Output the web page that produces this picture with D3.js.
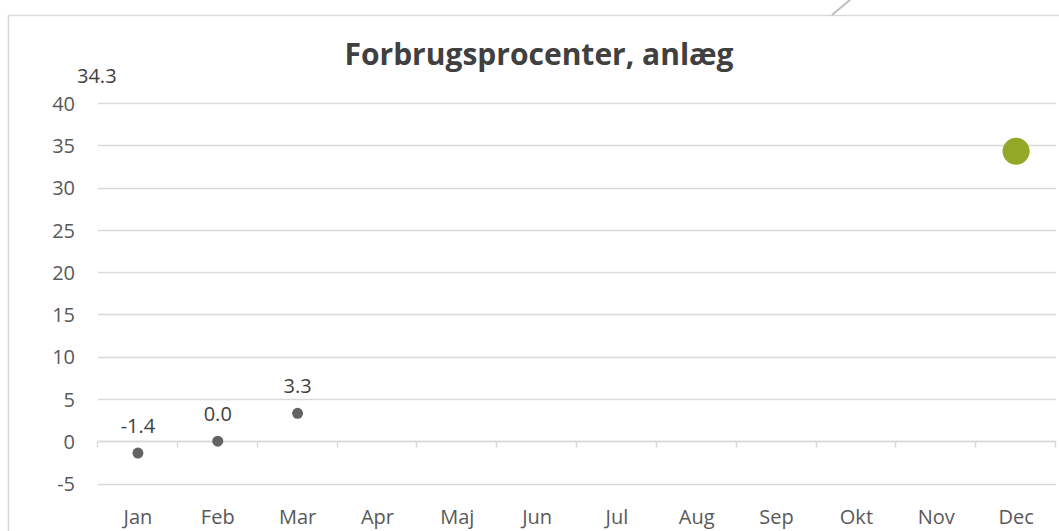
<!DOCTYPE html>
<html>
<head>
<meta charset="utf-8">
<script src="https://cdn.jsdelivr.net/npm/d3@7"></script>
<style>
  body { margin: 0; background: #fff; }
  svg { font-family: "Open Sans", "Noto Sans", sans-serif; }
</style>
</head>
<body>
<svg id="chart" width="1059" height="531"></svg>
<script>
const months = ['Jan', 'Feb', 'Mar', 'Apr', 'Maj', 'Jun', 'Jul', 'Aug', 'Sep', 'Okt', 'Nov', 'Dec'];
const actualValues = [-1.4, 0.0, 3.3, null, null, null, null, null, null, null, null, null];
const yearEndValues = [null, null, null, null, null, null, null, null, null, null, null, 34.3];
const yTicks = [-5, 0, 5, 10, 15, 20, 25, 30, 35, 40];

const svg = d3.select('#chart');
const margin = { top: 103, right: 3, bottom: 47.5, left: 98 };
const width = 1059, height = 531;
const labelSize = '20px';

// chart frame
svg.append('rect')
  .attr('x', 8.5).attr('y', 15.5)
  .attr('width', 1070).attr('height', 540)
  .attr('fill', 'none')
  .attr('stroke', '#d9d9d9')
  .attr('stroke-width', 1.5);

// connector line sticking out top right
svg.append('line')
  .attr('x1', 832).attr('y1', 15)
  .attr('x2', 851).attr('y2', -1)
  .attr('stroke', '#bfbfbf')
  .attr('stroke-width', 2);

const x = d3.scaleBand()
  .domain(months)
  .range([margin.left, width - margin.right]);

const y = d3.scaleLinear()
  .domain([-5, 40])
  .range([height - margin.bottom, margin.top]);

// gridlines
svg.append('g')
  .selectAll('line')
  .data(yTicks)
  .join('line')
  .attr('x1', margin.left).attr('x2', width - margin.right)
  .attr('y1', d => Math.round(y(d)) + 0.5).attr('y2', d => Math.round(y(d)) + 0.5)
  .attr('stroke', '#d9d9d9')
  .attr('stroke-width', 1.3);

// y axis labels
const yAxis = svg.append('g')
  .attr('transform', `translate(${margin.left - 23},0)`)
  .call(d3.axisLeft(y).tickValues(yTicks).tickSize(0).tickPadding(0)
    .tickFormat(d => String(d)));
yAxis.select('.domain').remove();
yAxis.attr('font-family', null);
yAxis.selectAll('text')
  .attr('fill', '#595959')
  .attr('dy', '0.36em')
  .style('font-size', labelSize);

// category axis along zero
const x0 = Math.round(y(0)) + 0.5;
const xAxis = svg.append('g')
  .attr('transform', `translate(0,${x0})`);
xAxis.append('line')
  .attr('x1', margin.left).attr('x2', width - margin.right)
  .attr('stroke', '#d9d9d9').attr('stroke-width', 1.5);
xAxis.selectAll('.tick-mark')
  .data(months.concat(['end']))
  .join('line')
  .attr('class', 'tick-mark')
  .attr('x1', (d, i) => Math.round(i < 12 ? x(d) : x.range()[1]) - 0.5)
  .attr('x2', (d, i) => Math.round(i < 12 ? x(d) : x.range()[1]) - 0.5)
  .attr('y1', 0).attr('y2', 6)
  .attr('stroke', '#d9d9d9').attr('stroke-width', 1.5);

// month labels at the bottom
svg.append('g')
  .selectAll('text')
  .data(months)
  .join('text')
  .attr('x', d => x(d) + x.bandwidth() / 2)
  .attr('y', 524)
  .attr('text-anchor', 'middle')
  .attr('fill', '#595959')
  .style('font-size', labelSize)
  .text(d => d);

// actual points
const actual = months.map((m, i) => ({ m, v: actualValues[i] })).filter(d => d.v !== null);
svg.append('g')
  .selectAll('circle')
  .data(actual)
  .join('circle')
  .attr('cx', d => x(d.m) + x.bandwidth() / 2)
  .attr('cy', d => y(d.v))
  .attr('r', 5.5)
  .attr('fill', '#636363');

svg.append('g')
  .selectAll('text')
  .data(actual)
  .join('text')
  .attr('x', d => x(d.m) + x.bandwidth() / 2)
  .attr('y', d => y(d.v) - 20)
  .attr('text-anchor', 'middle')
  .attr('fill', '#404040')
  .style('font-size', labelSize)
  .text(d => d.v.toFixed(1));

// year-end estimate
const yearEnd = months.map((m, i) => ({ m, v: yearEndValues[i] })).filter(d => d.v !== null);
svg.append('g')
  .selectAll('circle')
  .data(yearEnd)
  .join('circle')
  .attr('cx', d => x(d.m) + x.bandwidth() / 2)
  .attr('cy', d => y(d.v))
  .attr('r', 13.5)
  .attr('fill', '#93a826');

// its label was dragged to the top-left corner in the original
svg.append('g')
  .selectAll('text')
  .data(yearEnd)
  .join('text')
  .attr('x', 77)
  .attr('y', 83)
  .attr('fill', '#404040')
  .style('font-size', labelSize)
  .text(d => d.v.toFixed(1));

// title
svg.append('text')
  .attr('x', 539)
  .attr('y', 65)
  .attr('text-anchor', 'middle')
  .attr('fill', '#404040')
  .style('font-size', '30px')
  .style('font-weight', 'bold')
  .text('Forbrugsprocenter, anlæg');
</script>
</body>
</html>
